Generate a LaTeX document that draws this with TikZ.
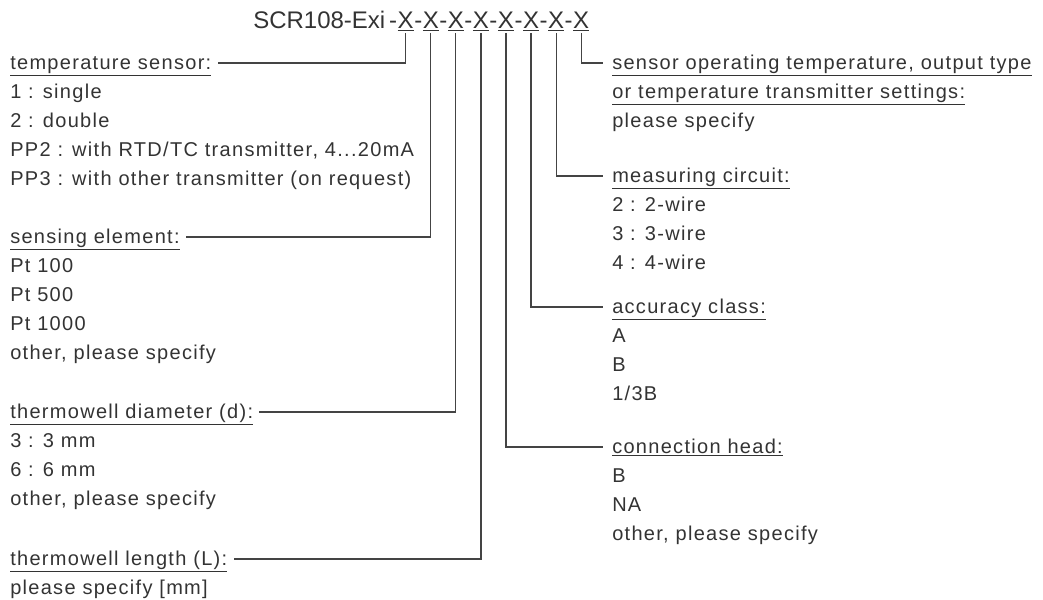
\documentclass[tikz,border=0pt]{standalone}
\usepackage{fontspec}
\setmainfont{Liberation Sans}
\newfontfamily\lblfont[LetterSpace=6.5]{Liberation Sans}
\usetikzlibrary{positioning}
\definecolor{txt}{HTML}{333333}
\definecolor{ln}{HTML}{444444}
\tikzset{
  lbl/.style={anchor=west,inner sep=0pt,text height=9.75pt,text depth=0pt,text=txt,font=\lblfont\fontsize{15pt}{18pt}\selectfont},
  ttl/.style={inner sep=0pt,text=txt,font=\fontsize{18pt}{22pt}\selectfont},
  conn/.style={draw=ln,line width=0.9pt,shorten <=1.5pt,shorten >=4.5pt},
  connr/.style={conn,shorten >=6.5pt},
}
\newcommand{\ul}[1]{\underline{#1}}
\begin{document}
\begin{tikzpicture}[x=0.75pt,y=-0.75pt]
\useasboundingbox (0,0) rectangle (1043,600);
% title
\node[ttl,anchor=base west] (t0) at (253,28) {SCR108-Exi};
\node[ttl,base right=2.5pt of t0] (d0) {-};
\node[ttl,base right=0pt of d0] (x1) {\ul{X}};
\node[ttl,base right=0pt of x1] (d1) {-};
\node[ttl,base right=0pt of d1] (x2) {\ul{X}};
\node[ttl,base right=0pt of x2] (d2) {-};
\node[ttl,base right=0pt of d2] (x3) {\ul{X}};
\node[ttl,base right=0pt of x3] (d3) {-};
\node[ttl,base right=0pt of d3] (x4) {\ul{X}};
\node[ttl,base right=0pt of x4] (d4) {-};
\node[ttl,base right=0pt of d4] (x5) {\ul{X}};
\node[ttl,base right=0pt of x5] (d5) {-};
\node[ttl,base right=0pt of d5] (x6) {\ul{X}};
\node[ttl,base right=0pt of x6] (d6) {-};
\node[ttl,base right=0pt of d6] (x7) {\ul{X}};
\node[ttl,base right=0pt of x7] (d7) {-};
\node[ttl,base right=0pt of d7] (x8) {\ul{X}};
% left column
\node[lbl] (h1) at (10,63) {\ul{temperature sensor:}};
\node[lbl] (h1a) at (10,92) {1 : single};
\node[lbl] (h1b) at (10,121) {2 : double};
\node[lbl] (h1c) at (10,150) {PP2 : with RTD/TC transmitter, 4...20mA};
\node[lbl] (h1d) at (10,179) {PP3 : with other transmitter (on request)};
\node[lbl] (h2) at (10,237) {\ul{sensing element:}};
\node[lbl] (h2a) at (10,266) {Pt 100};
\node[lbl] (h2b) at (10,295) {Pt 500};
\node[lbl] (h2c) at (10,324) {Pt 1000};
\node[lbl] (h2d) at (10,353) {other, please specify};
\node[lbl] (h3) at (10,412) {\ul{thermowell diameter (d):}};
\node[lbl] (h3a) at (10,441) {3 : 3 mm};
\node[lbl] (h3b) at (10,470) {6 : 6 mm};
\node[lbl] (h3c) at (10,499) {other, please specify};
\node[lbl] (h4) at (10,559) {\ul{thermowell length (L):}};
\node[lbl] (h4a) at (10,588) {please specify [mm]};
% right column
\node[lbl] (h8) at (612,63) {\ul{sensor operating temperature, output type}};
\node[lbl] (h8b) at (612,92) {\ul{or temperature transmitter settings:}};
\node[lbl] (h8c) at (612,121) {please specify};
\node[lbl] (h7) at (612,176) {\ul{measuring circuit:}};
\node[lbl] (h7a) at (612,205) {2 : 2-wire};
\node[lbl] (h7b) at (612,234) {3 : 3-wire};
\node[lbl] (h7c) at (612,263) {4 : 4-wire};
\node[lbl] (h6) at (612,307) {\ul{accuracy class:}};
\node[lbl] (h6a) at (612,336) {A};
\node[lbl] (h6b) at (612,365) {B};
\node[lbl] (h6c) at (612,394) {1/3B};
\node[lbl] (h5) at (612,447) {\ul{connection head:}};
\node[lbl] (h5a) at (612,476) {B};
\node[lbl] (h5b) at (612,505) {NA};
\node[lbl] (h5c) at (612,534) {other, please specify};
% connectors
\draw[conn] (x1.south) |- (h1.east);
\draw[conn] (x2.south) |- (h2.east);
\draw[conn] (x3.south) |- (h3.east);
\draw[conn] (x4.south) |- (h4.east);
\draw[connr] (x5.south) |- (h5.west);
\draw[connr] (x6.south) |- (h6.west);
\draw[connr] (x7.south) |- (h7.west);
\draw[connr] (x8.south) |- (h8.west);
\end{tikzpicture}
\end{document}
